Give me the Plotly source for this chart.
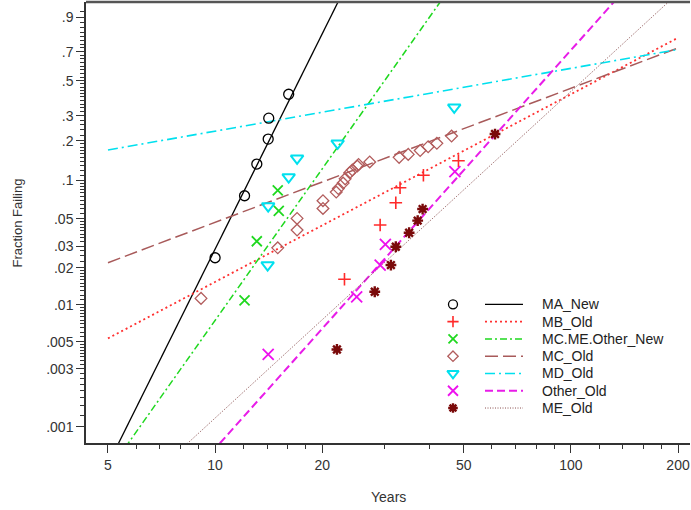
import numpy as np
import plotly.graph_objects as go

# ---------------- data ----------------
series_names = ["MA_New", "MB_Old", "MC.ME.Other_New", "MC_Old", "MD_Old", "Other_Old", "ME_Old"]

ma_new_years = [10.0, 12.1, 13.1, 14.1, 14.15, 16.1]
ma_new_frac = [0.0242, 0.076, 0.134, 0.206, 0.290, 0.416]

mb_old_years = [23.1, 29.1, 32.2, 33.1, 38.5, 48.3]
mb_old_frac = [0.0162, 0.0444, 0.0669, 0.0878, 0.110, 0.142]

mcmeother_new_years = [12.1, 13.1, 15.1, 15.0]
mcmeother_new_frac = [0.0109, 0.0329, 0.0577, 0.0838]

mc_old_years = [9.13, 15.0, 17.0, 17.0, 20.1, 20.1, 21.9, 22.2, 22.9, 23.2, 23.9, 24.3, 25.1, 25.3,
                27.2, 32.9, 34.9, 37.7, 39.7, 42.0, 46.2]
mc_old_frac = [0.0113, 0.0291, 0.0405, 0.0502, 0.0603, 0.0694, 0.0812, 0.0865, 0.0955, 0.1030,
               0.1150, 0.1205, 0.1293, 0.1330, 0.139, 0.1506, 0.1586, 0.1694, 0.1808, 0.1916, 0.2167]

md_old_years = [14.05, 14.1, 16.1, 17.0, 22.1, 47.0]
md_old_frac = [0.0211, 0.0629, 0.1064, 0.148, 0.1916, 0.343]

other_old_years = [14.1, 25.0, 29.1, 30.1, 47.2]
other_old_frac = [0.00393, 0.0116, 0.0211, 0.0310, 0.117]

me_old_years = [22.0, 28.1, 31.2, 32.2, 35.1, 37.1, 38.3, 61.2]
me_old_frac = [0.00432, 0.0128, 0.0211, 0.0297, 0.0385, 0.0482, 0.0596, 0.224]

# Weibull fit lines: shape (beta) and scale (eta, years), drawn over fit_range years
fit_beta = [5.87, 1.54, 4.13, 1.10, 0.515, 3.27, 2.68]
fit_eta = [18.3, 149.6, 32.7, 158.6, 129.0, 93.7, 123.6]
fit_range = [5, 200]

y_tick_frac = [0.9, 0.7, 0.5, 0.3, 0.2, 0.1, 0.05, 0.03, 0.02, 0.01, 0.005, 0.003, 0.001]
y_tick_text = [".9", ".7", ".5", ".3", ".2", ".1", ".05", ".03", ".02", ".01", ".005", ".003", ".001"]
x_tick_vals = [5, 10, 20, 50, 100, 200]
x_minor_vals = [6, 7, 8, 9, 12, 14, 16, 18, 30, 40, 60, 70, 80, 90, 120, 140, 160, 180]

# ---------------- styles ----------------
colors = ["#000000", "#ff2a2a", "#1fd81f", "#b25c5c", "#00e0ee", "#ee10ee", "#7a0a0a"]
line_colors = ["#000000", "#ff3030", "#1fd81f", "#a85a5a", "#00e0ee", "#e81ce8", "#8a5050"]
symbols = ["circle-open", "cross-thin", "x-thin", "diamond-open", "triangle-down-open", "x-thin", "asterisk-open"]
msizes = [10, 9, 10, 9, 11, 11, 9]
mwidths = [1.3, 1.6, 1.8, 1.3, 2.0, 1.8, 2.4]
dashes = ["solid", "2px,3px", "7px,3px,2px,3px", "13px,5px", "10px,4px,2px,4px", "8px,4px", "1px,1.5px"]
lwidths = [1.3, 1.8, 1.5, 1.5, 1.6, 2.0, 1.0]

all_years = [ma_new_years, mb_old_years, mcmeother_new_years, mc_old_years, md_old_years,
             other_old_years, me_old_years]
all_frac = [ma_new_frac, mb_old_frac, mcmeother_new_frac, mc_old_frac, md_old_frac,
            other_old_frac, me_old_frac]


def wscale(f):
    f = np.asarray(f, dtype=float)
    return np.log(-np.log(1.0 - f))


fig = go.Figure()

line_x = np.array(fit_range, dtype=float)
for i, name in enumerate(series_names):
    wline = fit_beta[i] * (np.log(line_x) - np.log(fit_eta[i]))
    fig.add_trace(go.Scatter(x=line_x, y=wline, mode="lines",
                             line=dict(color=line_colors[i], width=lwidths[i], dash=dashes[i]),
                             showlegend=False, hoverinfo="skip"))
for i, name in enumerate(series_names):
    fig.add_trace(go.Scatter(x=all_years[i], y=wscale(all_frac[i]), mode="markers", name=name,
                             marker=dict(symbol=symbols[i], size=msizes[i], color=colors[i],
                                         line=dict(color=colors[i], width=mwidths[i])),
                             showlegend=False))

# ---------------- custom legend (marker column, line column, text) ----------------
leg_mx, leg_l0, leg_l1, leg_tx = 0.6076, 0.6606, 0.7235, 0.752
leg_y0, leg_dy = 0.3145, 0.0392
for i, name in enumerate(series_names):
    yy = leg_y0 - i * leg_dy
    fig.add_trace(go.Scatter(x=[leg_mx], y=[yy], xaxis="x2", yaxis="y2", mode="markers",
                             marker=dict(symbol=symbols[i], size=msizes[i] - 1, color=colors[i],
                                         line=dict(color=colors[i], width=mwidths[i])),
                             showlegend=False, hoverinfo="skip"))
    fig.add_trace(go.Scatter(x=[leg_l0, leg_l1], y=[yy, yy], xaxis="x2", yaxis="y2", mode="lines",
                             line=dict(color=line_colors[i], width=lwidths[i], dash=dashes[i]),
                             showlegend=False, hoverinfo="skip"))
    fig.add_annotation(x=leg_tx, y=yy, xref="paper", yref="paper", text=name, showarrow=False,
                       xanchor="left", yanchor="middle",
                       font=dict(family="Liberation Sans, Arial", size=14, color="#222222"))

# minor ticks for the Weibull axis
bands = [(0.001, 0.003, 0.00025), (0.003, 0.005, 0.00025), (0.005, 0.01, 0.0005),
         (0.01, 0.02, 0.001), (0.02, 0.05, 0.0025), (0.05, 0.1, 0.005), (0.1, 0.2, 0.01),
         (0.2, 0.5, 0.02), (0.5, 0.9, 0.025), (0.9, 0.95, 0.025)]
minor_f = []
for a, b, s in bands:
    for v in np.arange(a + s, b - s / 2, s):
        minor_f.append(round(float(v), 6))
minor_f = [v for v in minor_f if all(abs(v - t) > 1e-9 for t in y_tick_frac)]

tickfont = dict(family="Liberation Sans, Arial", size=14, color="#333333")
fig.update_layout(
    width=691, height=510,
    margin=dict(l=86, r=1, t=2, b=67, autoexpand=False),
    paper_bgcolor="white", plot_bgcolor="white",
    showlegend=False,
    xaxis=dict(type="log", range=[0.6372, 2.3347], tickmode="array", tickvals=x_tick_vals,
               ticktext=[str(v) for v in x_tick_vals], ticks="outside", ticklen=8, tickwidth=1.3,
               tickcolor="#333", showline=True, linecolor="#333", linewidth=1.5, mirror=False,
               showgrid=False, zeroline=False, tickfont=tickfont,
               minor=dict(tickmode="array", tickvals=x_minor_vals, ticks="outside", ticklen=4,
                          tickcolor="#333", tickwidth=1.2, showgrid=False)),
    yaxis=dict(range=[-7.21, 1.123], tickmode="array", tickvals=list(wscale(y_tick_frac)),
               ticktext=y_tick_text, ticks="outside", ticklen=8, tickwidth=1.3, tickcolor="#333",
               showline=True, linecolor="#333", linewidth=1.5, showgrid=False, zeroline=False,
               tickfont=tickfont,
               minor=dict(tickmode="array", tickvals=list(wscale(minor_f)), ticks="outside",
                          ticklen=4, tickcolor="#333", tickwidth=1.0, showgrid=False)),
    xaxis2=dict(overlaying="x", range=[0, 1], visible=False, fixedrange=True),
    yaxis2=dict(overlaying="y", range=[0, 1], visible=False, fixedrange=True),
)
# top border of the frame
fig.add_shape(type="line", xref="paper", yref="paper", x0=0, x1=1, y0=1, y1=1,
              line=dict(color="#555555", width=2.5))

fig.add_annotation(x=0.5, y=-0.1224, xref="paper", yref="paper", text="Years", showarrow=False,
                   xanchor="center", yanchor="middle",
                   font=dict(family="Liberation Sans, Arial", size=14, color="#333333"))
fig.add_annotation(x=-0.1126, y=0.5, xref="paper", yref="paper", text="Fraction Failing",
                   showarrow=False, textangle=-90, xanchor="center", yanchor="middle",
                   font=dict(family="Liberation Sans, Arial", size=13, color="#333333"))

fig.write_html("out.html", config={"displayModeBar": False},
               post_script="document.body.style.margin='0px';document.body.style.overflow='hidden';")
